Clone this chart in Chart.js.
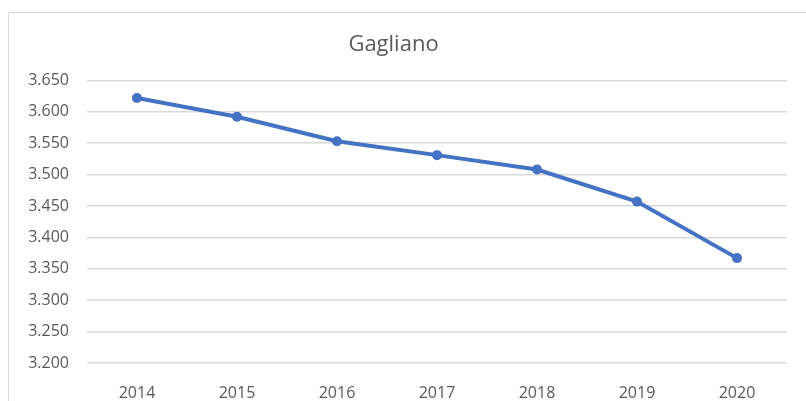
<!DOCTYPE html>
<html>
<head>
<meta charset="utf-8">
<script src="https://cdn.jsdelivr.net/npm/chart.js@4"></script>
<style>
  html, body { margin: 0; padding: 0; background: #fff; }
  #wrap { position: relative; width: 806px; height: 401px; }
</style>
</head>
<body>
<div id="wrap"><canvas id="chart" width="806" height="401"></canvas></div>
<script>
// Gagliano - population by year

const years = ['2014', '2015', '2016', '2017', '2018', '2019', '2020'];
const population = [3622, 3592, 3553, 3531, 3508, 3457, 3367];
const yMin = 3200;
const yMax = 3650;
const yStep = 50;

const textColor = '#595959';
const gridColor = '#d9d9d9';
const lineColor = '#4472c4';

// thousands with a dot, Italian style
function fmt(v) {
    const s = String(Math.round(v));
    return s.replace(/\B(?=(\d{3})+(?!\d))/g, '.');
}

// Excel-like outer chart frame
const framePlugin = {
    id: 'frame',
    beforeDraw(chart) {
        const ctx = chart.ctx;
        ctx.save();
        ctx.strokeStyle = gridColor;
        ctx.lineWidth = 1;
        ctx.strokeRect(8.5, 12.5, 1000, 600);
        ctx.restore();
    }
};

Chart.defaults.font.family = '"Open Sans", sans-serif';
Chart.defaults.color = textColor;

const ctx = document.getElementById('chart').getContext('2d');
new Chart(ctx, {
    type: 'line',
    data: {
        labels: years,
        datasets: [{
            label: 'Gagliano',
            data: population,
            borderColor: lineColor,
            backgroundColor: lineColor,
            borderWidth: 4,
            pointRadius: 5,
            pointBorderWidth: 0,
            pointBackgroundColor: lineColor,
            tension: 0,
            fill: false
        }]
    },
    options: {
        responsive: false,
        animation: false,
        layout: { padding: { left: 0, right: 19, top: 0, bottom: 0 } },
        plugins: {
            legend: { display: false },
            tooltip: { enabled: false },
            title: {
                display: true,
                text: 'Gagliano',
                color: textColor,
                font: { size: 22, weight: 'normal' },
                padding: { top: 32, bottom: 22 }
            }
        },
        scales: {
            x: {
                offset: true,
                grid: { display: false },
                border: { display: false },
                ticks: { padding: 13, font: { size: 16 }, color: textColor },
                afterFit(scale) { scale.height = 38; }
            },
            y: {
                min: yMin,
                max: yMax,
                grid: { color: gridColor, lineWidth: 1.5, drawTicks: false },
                border: { display: false },
                ticks: {
                    stepSize: yStep,
                    padding: 18,
                    font: { size: 16 },
                    color: textColor,
                    callback: v => fmt(v)
                },
                afterFit(scale) { scale.width = 87; }
            }
        }
    },
    plugins: [framePlugin]
});
</script>
</body>
</html>
